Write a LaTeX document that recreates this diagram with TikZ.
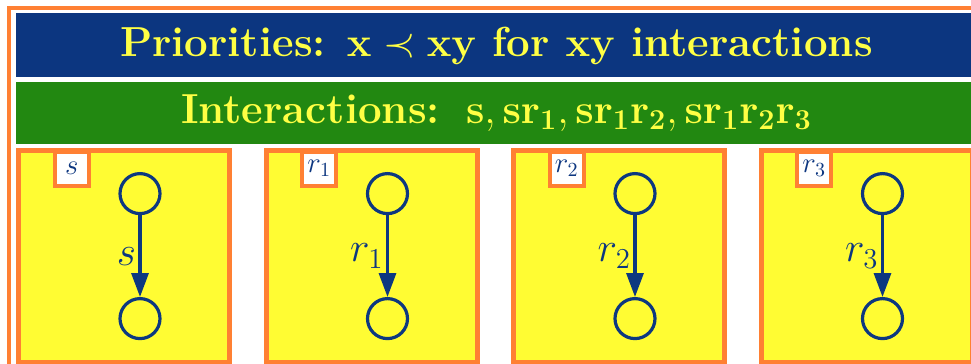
\documentclass[tikz,border=0pt]{standalone}
\usetikzlibrary{
  arrows.meta,
  positioning,
  calc
}
\definecolor{navy}{HTML}{0C3680}
\definecolor{leaf}{HTML}{228811}
\definecolor{frame}{HTML}{FF8033}
\definecolor{ylw}{HTML}{FFFC33}
\definecolor{ylwtext}{HTML}{FFFF44}
\definecolor{edgeblue}{HTML}{0D3880}
\tikzset{
  banner/.style={
    fill=#1,
    text=ylwtext,
    font=\fontsize{21}{25}\selectfont\bfseries,
    minimum width=480pt,
    minimum height=32pt,
    inner sep=0pt,
    anchor=north west,
  },
  banner/.default=navy,
  panel/.style={
    draw=frame,
    fill=ylw,
    line width=2.5pt,
    minimum width=105.5pt,
    minimum height=106pt,
  },
  tag/.style={
    draw=frame,
    fill=white,
    line width=2pt,
    minimum size=17pt,
    inner sep=0pt,
    text=navy,
    font=\fontsize{14.5}{17}\selectfont,
  },
  vertex/.style={
    circle,
    draw=edgeblue,
    line width=1.6pt,
    minimum size=20pt,
    inner sep=0pt,
  },
  flow/.style={
    -{Triangle[length=12pt, width=8.5pt]},
    line width=1.6pt,
    draw=edgeblue,
  },
  elabel/.style={
    text=navy,
    font=\fontsize{20}{23}\selectfont,
    inner sep=1.2pt,
  },
  rim/.style={
    draw=frame,
    line width=2pt,
  },
}

\begin{document}
\begin{tikzpicture}

\useasboundingbox (0,0) rectangle (485.5pt,-182pt);
\clip (0,0) rectangle (485.5pt,-182pt);

% === Outer frame ===
\coordinate (rimnw) at (4.35pt,-4pt);
\coordinate (rimse) at (489.65pt,-186pt);
\draw[rim] (rimnw) rectangle (rimse);

% === Banners ===

\node[banner=navy]
  (prio) at (8pt,-6.5pt) {Priorities: $\mathbf{x \prec xy}$ for $\mathbf{xy}$ interactions};

\node[banner=leaf, minimum height=31pt, below right=2pt and 0pt of prio.south west]
  (inter) {Interactions:\hspace{13pt}{\fontsize{21.9}{25}\selectfont$\mathbf{s, sr_1, sr_1r_2, sr_1r_2r_3}$}};

% === Panels ===

\node[panel, below right=1.5pt and 0pt of inter.south west]
  (sbox) {};

\node[panel, right=15.75pt of sbox]
  (r1box) {};

\node[panel, right=15.75pt of r1box]
  (r2box) {};

\node[panel, right=15.75pt of r2box]
  (r3box) {};

% tags
\node[tag, below right=1pt and 18.35pt of sbox.north west]
  (stag) {$s$};
\node[tag, below right=1pt and 18.35pt of r1box.north west]
  (r1tag) {$r_1$};
\node[tag, below right=1pt and 18.35pt of r2box.north west]
  (r2tag) {$r_2$};
\node[tag, below right=1pt and 18.35pt of r3box.north west]
  (r3tag) {$r_3$};

% === Transitions ===

\node[vertex] (shi) at ($(sbox.center)+(8pt,31.25pt)$) {};
\node[vertex] (slo) at ($(sbox.center)+(8pt,-31.25pt)$) {};
\draw[flow] (shi) -- node[elabel, left] {$s$} (slo);

\node[vertex] (r1hi) at ($(r1box.center)+(8pt,31.25pt)$) {};
\node[vertex] (r1lo) at ($(r1box.center)+(8pt,-31.25pt)$) {};
\draw[flow] (r1hi) -- node[elabel, left] {$r_1$} (r1lo);

\node[vertex] (r2hi) at ($(r2box.center)+(8pt,31.25pt)$) {};
\node[vertex] (r2lo) at ($(r2box.center)+(8pt,-31.25pt)$) {};
\draw[flow] (r2hi) -- node[elabel, left] {$r_2$} (r2lo);

\node[vertex] (r3hi) at ($(r3box.center)+(8pt,31.25pt)$) {};
\node[vertex] (r3lo) at ($(r3box.center)+(8pt,-31.25pt)$) {};
\draw[flow] (r3hi) -- node[elabel, left] {$r_3$} (r3lo);

\end{tikzpicture}
\end{document}
